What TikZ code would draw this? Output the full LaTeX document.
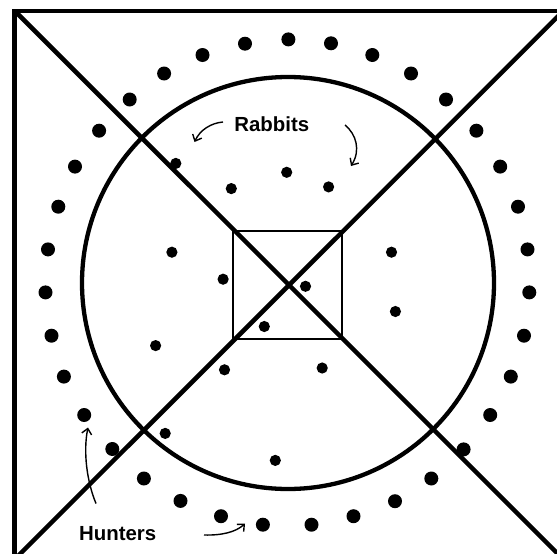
\documentclass[tikz,border=0pt]{standalone}
\usepackage{fontspec}
\setmainfont{Liberation Sans}
\usetikzlibrary{arrows.meta}
\tikzset{
  thickline/.style={line width=4.5pt, line join=miter},
  thinsquare/.style={line width=2.1pt},
  bigdot/.style={fill=black},
  smalldot/.style={fill=black},
  labeltext/.style={font=\fontsize{20.4}{22}\selectfont\bfseries, inner sep=0pt, anchor=base},
  hand/.style={line width=1.4pt, -{Straight Barb[length=5.5pt,width=10pt,line width=1.4pt]}}
}
\begin{document}
\begin{tikzpicture}[x=1pt,y=-1pt]
\useasboundingbox (0,0) rectangle (557,554);
\fill[white] (0,0) rectangle (557,554);
% outer square and diagonals
\draw[thickline] (14.7,10.8) rectangle (562,556.5);
\draw[thickline] (14.7,10.8) -- (562,558);
\draw[thickline] (563.5,10.8) -- (15,559);
% circle
\draw[line width=4.3pt] (288,283) circle (206);
% inner square
\draw[thinsquare] (233.4,231) rectangle (342,339.3);
% outer dots (hunters)
\foreach \x/\y in {245/43.7, 288.4/39.4, 331/43.3, 372.3/55, 411/73.5, 446/99.5,
  476.4/130.7, 500.2/166.6, 518/206.7, 527.5/249.4, 529.3/292.4, 524/335.7,
  510.8/376.6, 490.2/415, 463.6/449.4, 431.3/478.5, 395/501.2, 353.5/516.2,
  311.5/524.7, 262.9/524.7, 221/516.2, 180.5/500.9, 143.9/478.5, 112.3/449,
  84.2/415, 63.9/376.6, 51.5/335.7, 45.5/292.4, 48/249.4, 58.3/206.7,
  75/166.6, 99.1/130.7, 129.7/99.5, 164.1/73.5, 202.5/55}
  \fill[bigdot] (\x,\y) circle (7);
% inner dots (rabbits)
\foreach \x/\y in {175.8/163.4, 231.3/188.6, 286.7/172.3, 328.6/186.9,
  171.9/252.2, 223.1/279.2, 305.5/286.3, 391.5/252.2, 395.4/311.5,
  264.3/326.5, 155.6/345.6, 224.5/369.8, 322.2/368, 165.2/433.4, 275.3/460.4}
  \fill[smalldot] (\x,\y) circle (5.6);
% labels
\node[labeltext] (rabbits) at (271.8,131) {Rabbits};
\node[labeltext] (hunters) at (117.7,540.7) {Hunters};
% arrows
\coordinate (r1s) at (223,122);
\coordinate (r1e) at (194.5,142);
\coordinate (r2s) at (345,125);
\coordinate (r2e) at (351,166);
\coordinate (h1s) at (96,503.5);
\coordinate (h1e) at (88,427.5);
\coordinate (h2s) at (204,535);
\coordinate (h2e) at (245,523.5);
\draw[hand] (r1s) .. controls (211,123) and (200,130) .. (r1e);
\draw[hand] (r2s) .. controls (356,134) and (361,150) .. (r2e);
\draw[hand] (h1s) .. controls (87,482) and (83,452) .. (h1e);
\draw[hand] (h2s) .. controls (222,535.5) and (236,532) .. (h2e);
\end{tikzpicture}
\end{document}
